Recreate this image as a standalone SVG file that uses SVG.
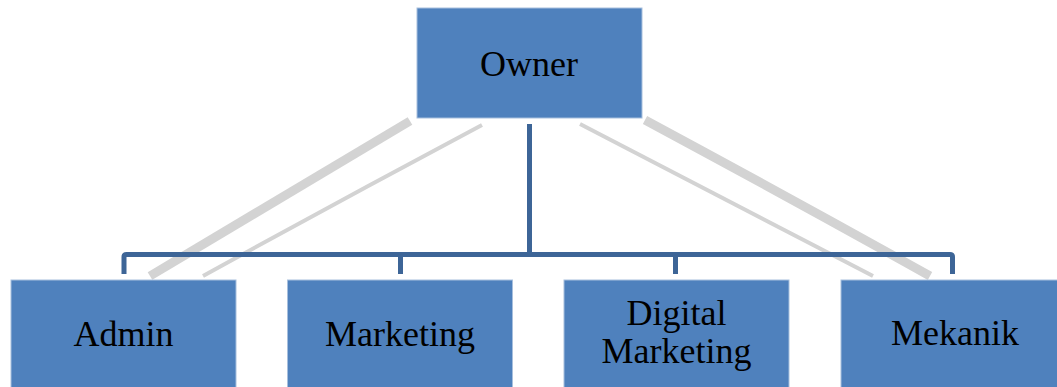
<svg xmlns="http://www.w3.org/2000/svg" width="1057" height="387" viewBox="0 0 1057 387">
<style>
.box{fill:#4f81bd;stroke:#a7bfdd;stroke-width:1}
.lbl{font-family:"Liberation Serif","Times New Roman",serif;font-size:36px;fill:#000;text-anchor:middle}
.wm{stroke:#d3d3d3;fill:none;stroke-linecap:butt}
.con{stroke:#3d6597;stroke-width:5;fill:none;stroke-linejoin:round}
</style>
<rect width="1057" height="387" fill="#fff"/>
<g id="watermark">
<path class="wm" stroke-width="9" d="M410,121 Q285,196 150,276"/>
<path class="wm" stroke-width="4" d="M482,125 Q343,199 203,276"/>
<path class="wm" stroke-width="9" d="M645,120 Q790,198 930,276"/>
<path class="wm" stroke-width="4" d="M580,124 Q727,200 873,276"/>
</g>
<g id="connectors">
<line class="con" x1="529.5" y1="124" x2="529.5" y2="254.5"/>
<path class="con" d="M124,274 V257 Q124,254.5 126.5,254.5 H950 Q952.5,254.5 952.5,257 V274"/>
<line class="con" x1="400.5" y1="254.5" x2="400.5" y2="274"/>
<line class="con" x1="675.5" y1="254.5" x2="675.5" y2="274"/>
</g>
<g id="owner">
<rect class="box" x="417" y="8" width="225" height="110"/>
<text class="lbl" x="529" y="76">Owner</text>
</g>
<g id="admin">
<rect class="box" x="11" y="280" width="225" height="115"/>
<text class="lbl" x="123.5" y="346">Admin</text>
</g>
<g id="marketing">
<rect class="box" x="287.5" y="280" width="225" height="115"/>
<text class="lbl" x="400" y="346">Marketing</text>
</g>
<g id="digital-marketing">
<rect class="box" x="564" y="280" width="225" height="115"/>
<text class="lbl" x="676.5" y="325">Digital</text>
<text class="lbl" x="676.5" y="363">Marketing</text>
</g>
<g id="mekanik">
<rect class="box" x="841" y="280" width="225" height="115"/>
<text class="lbl" x="955" y="345">Mekanik</text>
</g>
</svg>
